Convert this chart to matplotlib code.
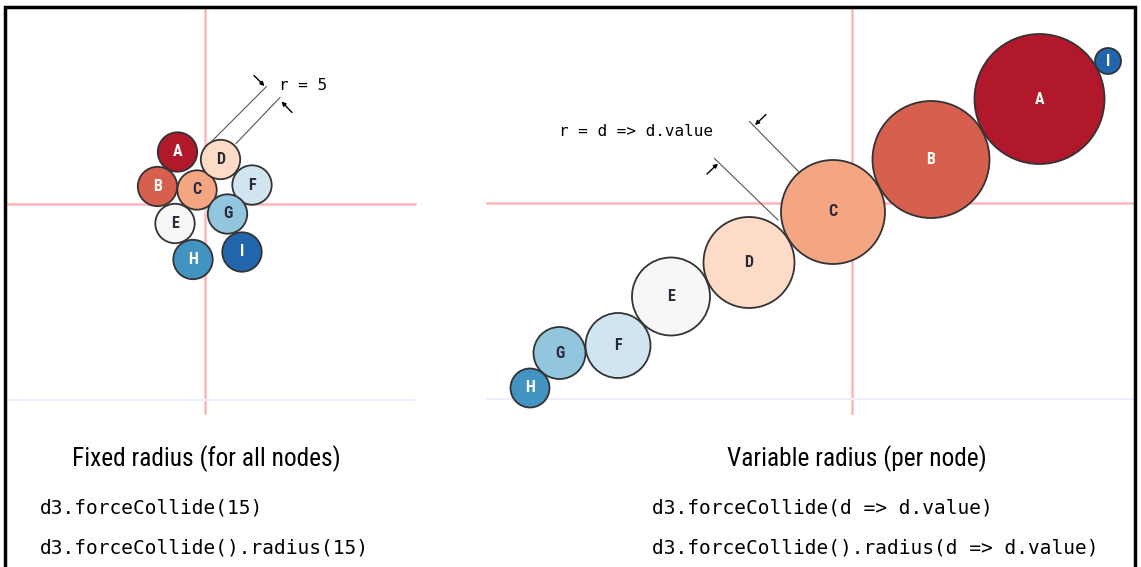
import matplotlib
matplotlib.use('Agg')
import matplotlib.pyplot as plt
from matplotlib.patches import Circle

# node labels and colours (RdBu, 9 classes)
labels = ['A', 'B', 'C', 'D', 'E', 'F', 'G', 'H', 'I']
colors = ['#b2182b', '#d6604d', '#f4a582', '#fddbc7', '#f7f7f7',
          '#d1e5f0', '#92c5de', '#4393c3', '#2166ac']
text_colors = ['white', 'white', '#2a2a3a', '#2a2a3a', '#2a2a3a',
               '#2a2a3a', '#2a2a3a', 'white', 'white']

# left panel: fixed radius layout (pixel coords)
fixed_x = [177.5, 157.5, 197, 220.5, 175, 252, 227.5, 193, 242]
fixed_y = [152, 186.5, 190, 159.5, 223.5, 185, 214, 259.5, 252]
fixed_r = 19.7

# right panel: variable radius layout
var_x = [1039.5, 931, 833, 749, 671, 618, 559.5, 530, 1108]
var_y = [99, 159.5, 212, 262.5, 296.5, 345.5, 353, 388, 61]
values = [10, 9, 8, 7, 6, 5, 4, 3, 2]
scale = 6.5

titles = ['Fixed radius (for all nodes)', 'Variable radius (per node)']
code_left = ['d3.forceCollide(15)', 'd3.forceCollide().radius(15)']
code_right = ['d3.forceCollide(d => d.value)', 'd3.forceCollide().radius(d => d.value)']

fig = plt.figure(figsize=(11.41, 5.67), dpi=100)
ax = fig.add_axes([0, 0, 1, 1])
ax.set_xlim(0, 1141)
ax.set_ylim(567, 0)
ax.set_aspect('equal')
ax.axis('off')

pink = '#ffb6bb'
faint = '#eeeefc'
# crosshairs
ax.plot([205, 205], [8, 413], color=pink, lw=1.8, zorder=1)
ax.plot([8, 415], [204, 204], color=pink, lw=1.8, zorder=1)
ax.plot([8, 415], [400, 400], color=faint, lw=1.5, zorder=1)
ax.plot([852, 852], [8, 413], color=pink, lw=1.8, zorder=1)
ax.plot([487, 1133], [203, 203], color=pink, lw=1.8, zorder=1)
ax.plot([487, 1133], [399, 399], color=faint, lw=1.5, zorder=1)

# faint grey shadow behind the cluster
ax.add_patch(Circle((213, 205), 11, facecolor='#dddddd', edgecolor='none', zorder=2))

label_font = ['Roboto Condensed', 'Roboto', 'DejaVu Sans']
for lab, x, y, c, tc in zip(labels, fixed_x, fixed_y, colors, text_colors):
    ax.add_patch(Circle((x, y), fixed_r, facecolor=c, edgecolor='#333333', lw=1.3, zorder=3))
    ax.text(x, y, lab, ha='center', va='center', color=tc, fontsize=11.5,
            fontweight='bold', family=label_font, zorder=4)

for lab, x, y, v, c, tc in zip(labels, var_x, var_y, values, colors, text_colors):
    ax.add_patch(Circle((x, y), v * scale, facecolor=c, edgecolor='#333333', lw=1.3, zorder=3))
    ax.text(x, y, lab, ha='center', va='center', color=tc, fontsize=11.5,
            fontweight='bold', family=label_font, zorder=4)

# radius annotations
line_kw = dict(color='#555555', lw=0.8, zorder=5)
arrow_kw = dict(arrowstyle='-|>', color='black', lw=1.0, mutation_scale=6,
                shrinkA=0, shrinkB=0)
ax.plot([211.5, 266.5], [141.5, 86.5], **line_kw)
ax.plot([236, 280], [143.5, 97.5], **line_kw)
ax.annotate('', xy=(264.5, 86), xytext=(254, 75.5), arrowprops=arrow_kw)
ax.annotate('', xy=(281.5, 101.5), xytext=(292, 112.5), arrowprops=arrow_kw)
ax.text(279, 86, 'r = 5', fontsize=11.5, family='DejaVu Sans Mono', va='center', ha='left')

ax.plot([749.5, 798.5], [121.5, 171.5], **line_kw)
ax.plot([714.5, 778], [158.5, 220], **line_kw)
ax.annotate('', xy=(755, 125), xytext=(766, 114.5), arrowprops=arrow_kw)
ax.annotate('', xy=(718, 163.5), xytext=(707, 174), arrowprops=arrow_kw)
ax.text(559, 132, 'r = d => d.value', fontsize=11.5, family='DejaVu Sans Mono',
        va='center', ha='left')

# captions
title_font = ['Roboto Condensed', 'Roboto', 'DejaVu Sans']
ax.text(206, 459, titles[0], ha='center', va='center', fontsize=18.3, family=title_font)
ax.text(857, 459, titles[1], ha='center', va='center', fontsize=18.3, family=title_font)
for i, s in enumerate(code_left):
    ax.text(40, 508 + 40 * i, s, ha='left', va='center', fontsize=14, family='DejaVu Sans Mono')
for i, s in enumerate(code_right):
    ax.text(652, 508 + 40 * i, s, ha='left', va='center', fontsize=14, family='DejaVu Sans Mono')

# frame
ax.plot([4.5, 4.5, 1135, 1135], [575, 6.5, 6.5, 575], color='black', lw=2.5,
        solid_joinstyle='miter', zorder=6, clip_on=False)

fig.savefig('out.png', dpi=100)
